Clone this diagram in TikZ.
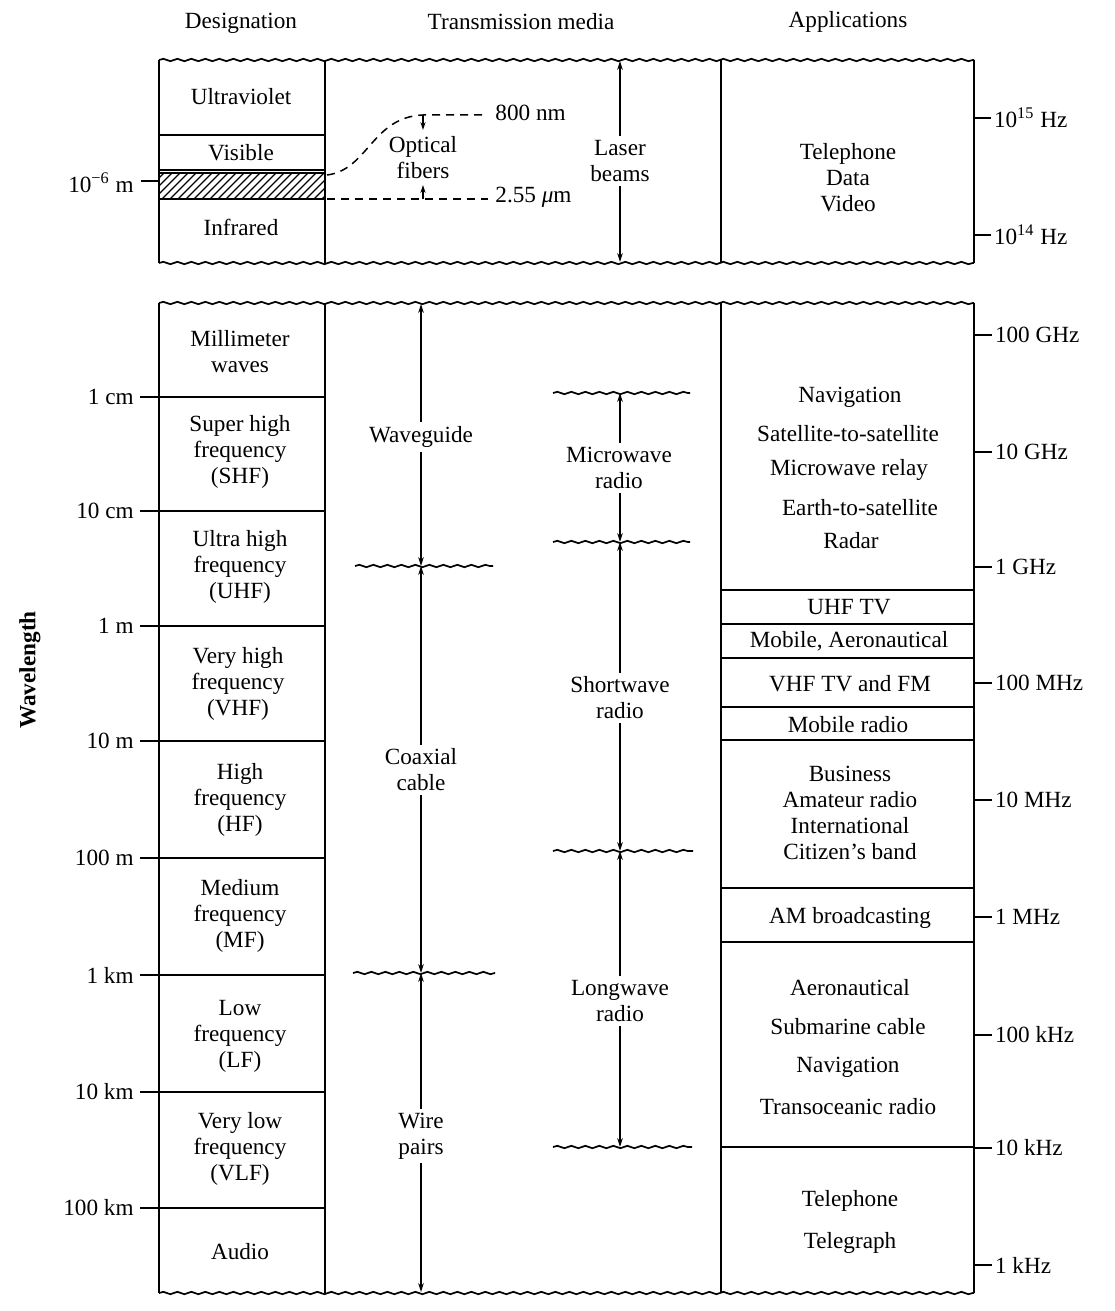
\documentclass[tikz,border=0pt]{standalone}
\usepackage{fontspec}
\setmainfont{Liberation Serif}
\usetikzlibrary{arrows.meta,decorations.pathmorphing}
\newcommand{\fsz}{\fontsize{11.6pt}{13pt}\selectfont}
\begin{document}
\begin{tikzpicture}[x=0.5pt,y=-0.5pt,
  box/.style={line width=1pt},
  wavy/.style={line width=0.85pt, decorate, decoration={snake, amplitude=0.6pt, segment length=7pt}},
  rng/.style={line width=0.6pt, {Stealth[length=4.5pt,width=2.8pt]}-{Stealth[length=4.5pt,width=2.8pt]}},
  oneway/.style={line width=0.6pt, -{Stealth[length=4pt,width=2.6pt]}},
  dsh/.style={line width=0.75pt, dash pattern=on 4pt off 3pt},
  txt/.style={font=\fsz, align=center, inner sep=1pt},
  gap/.style={txt, fill=white, inner sep=2pt},
  lft/.style={font=\fsz, anchor=east, inner sep=1pt},
  rgt/.style={font=\fsz, anchor=west, inner sep=1pt},
  hd/.style={font=\fsz, inner sep=1pt}]
\useasboundingbox[fill=white] (0,0) rectangle (1114,1311);

% headers
\node[hd] (hdes) at (241,23) {Designation};
\node[hd] (hmed) at (521,22) {Transmission media};
\node[hd] (happ) at (848,22) {Applications};

% ===== top section =====
\draw[wavy] (159,60) -- (974,60);
\draw[wavy] (159,263) -- (974,263);
\foreach \x in {159,325,721,974} \draw[box] (\x,60) -- (\x,263);
\draw[box] (159,135) -- (325,135);
\draw[box] (159,170) -- (325,170);
\begin{scope}
  \clip (159,173) rectangle (325,199);
  \foreach \i in {0,...,25} \draw[line width=0.6pt] (130+\i*8,199) -- ++(30,-30);
\end{scope}
\draw[box] (159,173) rectangle (325,199);
\node[txt] (uv) at (241,97) {Ultraviolet};
\node[txt] (vis) at (241,153) {Visible};
\node[txt] (ir) at (241,227) {Infrared};
\draw[box] (141,181) -- (159,181);
\node[lft] (um) at (136,183) {10\textsuperscript{\char"2212 6} m};

% optical fibres window
\coordinate (ofa) at (327,175);
\coordinate (ofb) at (423,115);
\coordinate (ofc) at (488,115);
\coordinate (ofd) at (327,199);
\coordinate (ofe) at (488,199);
\coordinate (ofb2) at (423,130);
\coordinate (ofg) at (423,199);
\coordinate (ofg2) at (423,185);
\draw[dsh] (ofa) .. controls (368,170) and (372,117) .. (ofb) -- (ofc);
\draw[dsh] (ofd) -- (ofe);
\draw[oneway] (ofb) -- (ofb2);
\draw[oneway] (ofg) -- (ofg2);
\node[rgt] (nm800) at (493,113) {800 nm};
\node[rgt] (um255) at (493,197) {2.55 {\itshape μ}m};
\node[txt] (opt) at (423,158) {Optical\\fibers};

% laser beams
\coordinate (lbt) at (620,61);
\coordinate (lbb) at (620,262);
\draw[rng] (lbt) -- (lbb);
\node[gap] (laser) at (620,161) {Laser\\beams};

\node[txt] (app0) at (848,178) {Telephone\\Data\\Video};
\draw[box] (974,118) -- (991,118) node[rgt] (f15) {10\textsuperscript{15} Hz};
\draw[box] (974,235) -- (991,235) node[rgt] (f14) {10\textsuperscript{14} Hz};

% ===== lower section =====
\draw[wavy] (159,303) -- (974,303);
\draw[wavy] (159,1293) -- (974,1293);
\foreach \x in {159,325,721,974} \draw[box] (\x,303) -- (\x,1293);

% wavelength scale
\foreach \y/\t [count=\i] in {397/1 cm,511/10 cm,626/1 m,741/10 m,858/100 m,975/1 km,1092/10 km,1208/100 km}{
  \draw[box] (140,\y) -- (325,\y);
  \node[lft] (w\i) at (136,\y) {\t};
}
\node[font=\bfseries\fsz, rotate=90, inner sep=1pt] (wavelen) at (30,670) {Wavelength};

% designations
\node[txt] (d1) at (240,352) {Millimeter\\waves};
\node[txt] (d2) at (240,452) {Super high\\frequency\\(SHF)};
\node[txt] (d3) at (240,567) {Ultra high\\frequency\\(UHF)};
\node[txt] (d4) at (238,684) {Very high\\frequency\\(VHF)};
\node[txt] (d5) at (240,800) {High\\frequency\\(HF)};
\node[txt] (d6) at (240,916) {Medium\\frequency\\(MF)};
\node[txt] (d7) at (240,1036) {Low\\frequency\\(LF)};
\node[txt] (d8) at (240,1149) {Very low\\frequency\\(VLF)};
\node[txt] (d9) at (240,1252) {Audio};

% guided media
\coordinate (g0) at (421,304);
\coordinate (g1) at (421,566);
\coordinate (g2) at (421,973);
\coordinate (g3) at (421,1292);
\draw[wavy] (355,566) -- (493,566);
\draw[wavy] (353,973) -- (495,973);
\draw[rng] (g0) -- (g1);
\draw[rng] (g1) -- (g2);
\draw[rng] (g2) -- (g3);
\node[gap] (wg) at (421,437) {Waveguide};
\node[gap] (coax) at (421,770) {Coaxial\\cable};
\node[gap] (wire) at (421,1136) {Wire\\pairs};

% radio
\coordinate (r0) at (620,393);
\coordinate (r1) at (620,542);
\coordinate (r2) at (620,851);
\coordinate (r3) at (620,1147);
\draw[wavy] (553,393) -- (690,393);
\draw[wavy] (553,542) -- (690,542);
\draw[wavy] (553,851) -- (693,851);
\draw[wavy] (553,1147) -- (692,1147);
\draw[rng] (r0) -- (r1);
\draw[rng] (r1) -- (r2);
\draw[rng] (r2) -- (r3);
\node[gap] (mw) at (619,468) {Microwave\\radio};
\node[gap] (sw) at (620,698) {Shortwave\\radio};
\node[gap] (lw) at (620,1001) {Longwave\\radio};

% applications
\foreach \y in {590,624,658,707,740,888,942,1147} \draw[box] (721,\y) -- (974,\y);
\node[txt] (a1) at (850,397) {Navigation};
\node[txt] (a2) at (848,434) {Satellite-to-satellite};
\node[txt] (a3) at (849,470) {Microwave relay};
\node[txt] (a4) at (860,508) {Earth-to-satellite};
\node[txt] (a5) at (851,541) {Radar};
\node[txt] (a6) at (849,607) {UHF TV};
\node[txt] (a7) at (849,641) {Mobile, Aeronautical};
\node[txt] (a8) at (850,684) {VHF TV and FM};
\node[txt] (a9) at (848,725) {Mobile radio};
\node[txt] (a10) at (850,813) {Business\\Amateur radio\\International\\Citizen’s band};
\node[txt] (a11) at (850,918) {AM broadcasting};
\node[txt] (a12) at (850,988) {Aeronautical};
\node[txt] (a13) at (848,1027) {Submarine cable};
\node[txt] (a14) at (848,1067) {Navigation};
\node[txt] (a15) at (848,1107) {Transoceanic radio};
\node[txt] (a16) at (850,1201) {Telephone};
\node[txt] (a17) at (850,1243) {Telegraph};

% frequency scale
\foreach \y/\t [count=\i] in {335/100 GHz,452/10 GHz,567/1 GHz,683/100 MHz,800/10 MHz,917/1 MHz,1035/100 kHz,1148/10 kHz,1265/1 kHz}{
  \draw[box] (974,\y) -- (992,\y) node[rgt] (fq\i) {\t};
}
\end{tikzpicture}
\end{document}
